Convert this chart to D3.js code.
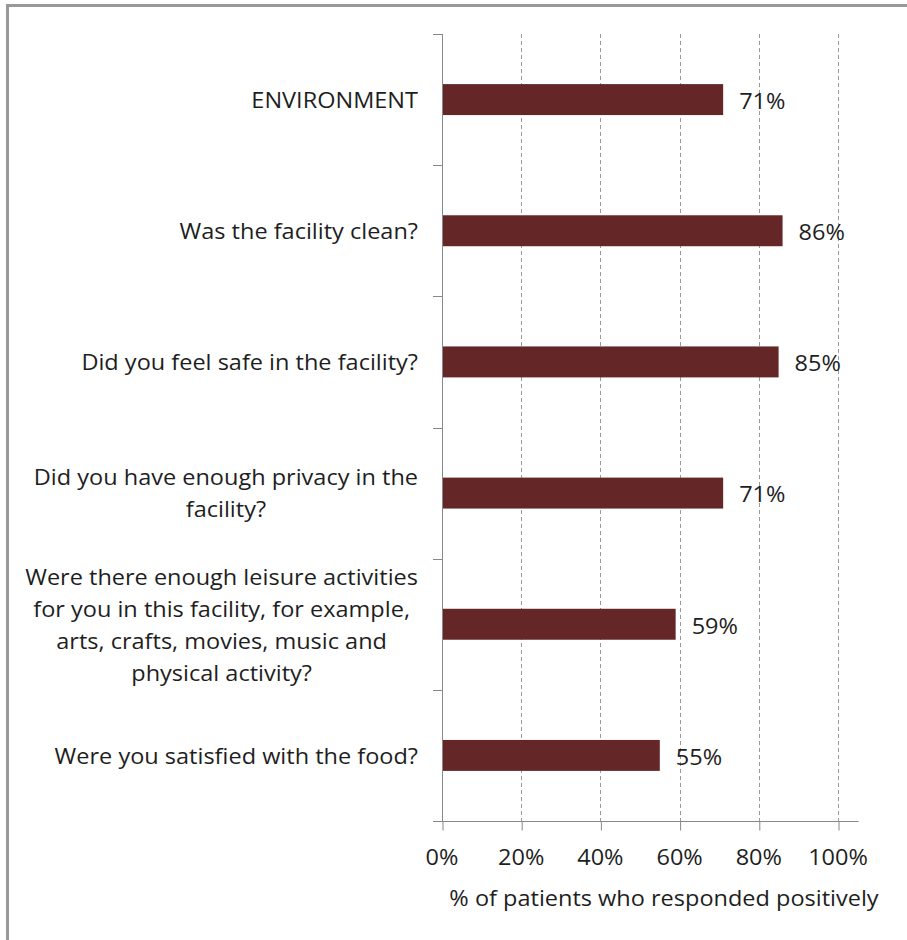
<!DOCTYPE html>
<html>
<head>
<meta charset="utf-8">
<script src="https://cdn.jsdelivr.net/npm/d3@7"></script>
<style>
  html, body { margin: 0; padding: 0; background: #fff; }
  svg { display: block; }
  text { font-family: "Open Sans", Lato, sans-serif; fill: #1e1e1e; }
</style>
</head>
<body>
<svg id="chart" width="907" height="940"></svg>
<script>
const categories = [
  "ENVIRONMENT",
  "Was the facility clean?",
  "Did you feel safe in the facility?",
  "Did you have enough privacy in the|facility?",
  "Were there enough leisure activities|for you in this facility, for example,|arts, crafts, movies, music and|physical activity?",
  "Were you satisfied with the food?"
];
const values = [71, 86, 85, 71, 59, 55];
const tickValues = [0, 20, 40, 60, 80, 100];
const tickLabels = ["0%", "20%", "40%", "60%", "80%", "100%"];
const axisTitle = "% of patients who responded positively";

const FS = 21;
const SX = 1.12;   // horizontal stretch of the text, as in the reference
const svg = d3.select("#chart");
const plot = { left: 442, right: 838, top: 34, bottom: 821 };

// stretched text helper
function label(parent, px, py, str, anchor) {
  const g = parent.append("g").attr("transform", `translate(${px},${py}) scale(${SX},1)`);
  const t = g.append("text")
    .attr("x", 0).attr("y", 0)
    .attr("dy", "0.35em")
    .attr("text-anchor", anchor)
    .attr("font-size", FS)
    .text(str);
  return { g, t };
}

// outer frame
svg.append("path")
  .attr("d", "M7.5,945 L7.5,5.5 L910,5.5")
  .attr("fill", "none").attr("stroke", "#999").attr("stroke-width", 3);

const x = d3.scaleLinear().domain([0, 100]).range([plot.left, plot.right]);
const y = d3.scaleBand().domain(categories).range([plot.top, plot.bottom])
  .paddingInner(0.764).paddingOuter(0.382);
const edges = d3.scaleLinear().domain([0, categories.length]).range([plot.top, plot.bottom]);

// gridlines
svg.append("g").selectAll("line").data(tickValues.filter(t => t > 0)).join("line")
  .attr("x1", d => Math.round(x(d)) + 0.5).attr("x2", d => Math.round(x(d)) + 0.5)
  .attr("y1", plot.top).attr("y2", plot.bottom)
  .attr("stroke", "#9a9a9a").attr("stroke-width", 1).attr("stroke-dasharray", "4,3");

// bars
svg.append("g").selectAll("rect").data(values).join("rect")
  .attr("x", x(0))
  .attr("y", (d, i) => y(categories[i]))
  .attr("width", d => x(d) - x(0))
  .attr("height", y.bandwidth())
  .attr("fill", "#642626");

// y axis line + ticks at band edges
svg.append("line")
  .attr("x1", plot.left + 0.5).attr("x2", plot.left + 0.5)
  .attr("y1", plot.top).attr("y2", plot.bottom)
  .attr("stroke", "#888");
svg.append("g").selectAll("line").data(d3.range(categories.length + 1)).join("line")
  .attr("x1", plot.left - 9).attr("x2", plot.left)
  .attr("y1", d => Math.round(edges(d)) + 0.5).attr("y2", d => Math.round(edges(d)) + 0.5)
  .attr("stroke", "#888");

// x axis
const xAxis = d3.axisBottom(x).tickValues(tickValues).tickFormat("").tickSize(9);
const gx = svg.append("g").attr("transform", `translate(0.5,${plot.bottom + 0.5})`).call(xAxis);
gx.select(".domain").attr("d", `M${plot.left - 8},0H${plot.right + 20}`).attr("stroke", "#888");
gx.selectAll(".tick line").attr("stroke", "#888");
const tl = svg.append("g");
tickValues.forEach((t, i) => label(tl, x(t), 858, tickLabels[i], "middle"));

label(svg, 664, 899, axisTitle, "middle");

// category labels: block right-aligned, lines centered within block
const lineH = 32;
const labelRight = 418;
categories.forEach((c, i) => {
  const lines = c.split("|");
  const cy = y(c) + y.bandwidth() / 2 + 1;
  const g = svg.append("g");
  const items = lines.map((ln, j) => label(g, 0, cy + (j - (lines.length - 1) / 2) * lineH, ln, "middle"));
  const w = d3.max(items, it => it.t.node().getComputedTextLength()) * SX;
  items.forEach((it, j) => it.g.attr("transform",
    `translate(${labelRight - w / 2},${cy + (j - (lines.length - 1) / 2) * lineH}) scale(${SX},1)`));
});

// value labels
const vl = svg.append("g");
values.forEach((v, i) => label(vl, x(v) + 16, y(categories[i]) + y.bandwidth() / 2 + 2, v + "%", "start"));
</script>
</body>
</html>
